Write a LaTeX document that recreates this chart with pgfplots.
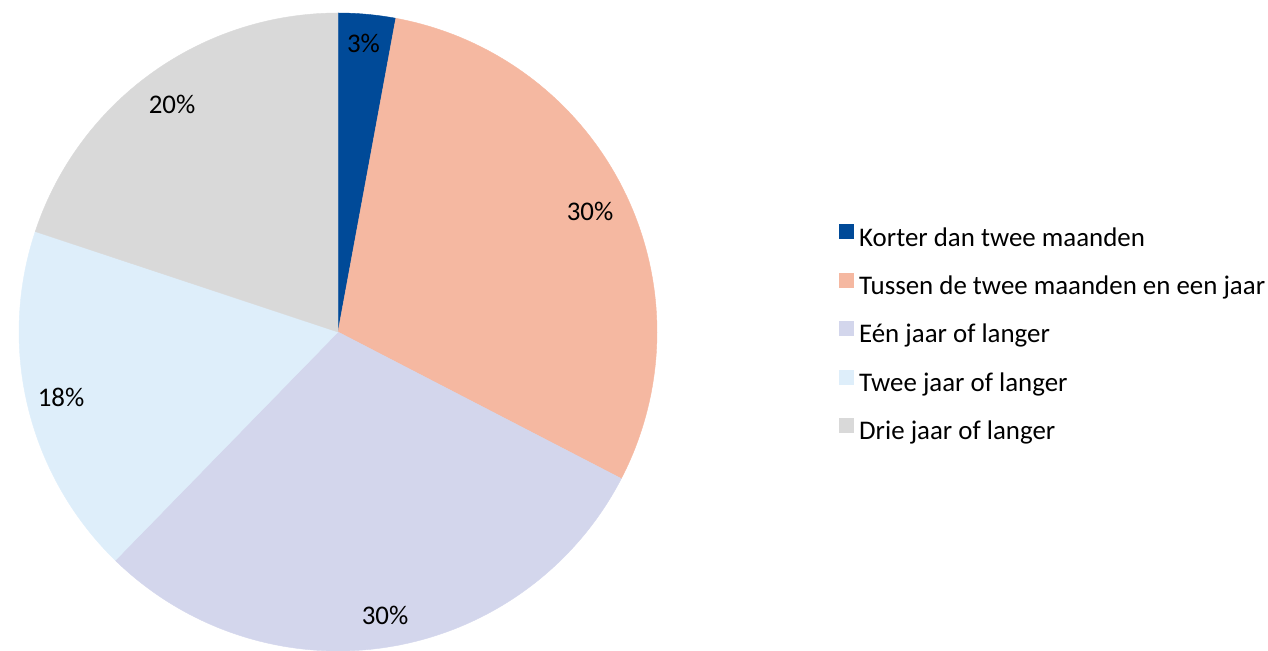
\documentclass[border=0pt]{standalone}
\usepackage{fontspec}
\setmainfont{Carlito}
\usepackage{pgfplots}
\pgfplotsset{compat=1.18}
\definecolor{cA}{RGB}{0,74,152}
\definecolor{cB}{RGB}{245,184,161}
\definecolor{cC}{RGB}{211,214,236}
\definecolor{cD}{RGB}{222,238,250}
\definecolor{cE}{RGB}{217,217,217}
% slice: start percent, end percent, colour
\newcommand{\slice}[3]{%
  \pgfmathsetmacro{\sa}{#1*3.6}\pgfmathsetmacro{\sb}{#2*3.6}%
  \addplot[fill=#3, draw=#3, line width=0.2bp, domain=\sa:\sb, samples=150, variable=\t, forget plot]
    ({338+319*sin(\t)}, {319+319*cos(\t)}) -- (axis cs:338,319) -- cycle;
}
\begin{document}
\begin{tikzpicture}
\begin{axis}[
  hide axis, scale only axis,
  width=634bp, height=325.5bp,
  xmin=0, xmax=1268, ymin=0, ymax=651,
  clip=false,
  legend cell align=left,
  legend style={draw=none, fill=none, at={(axis cs:839,651-223)}, anchor=north west,
    font=\fontsize{13.45bp}{16.1bp}\selectfont, row sep=9.4bp, inner sep=0pt,
    /tikz/every odd column/.append style={column sep=0.4bp},
    /tikz/every even column/.append style={column sep=0pt}},
  legend image code/.code={\fill[#1, draw=none] (0bp,-0.5bp) rectangle (7.5bp,7bp);},
]
\coordinate (ll) at (axis cs:0,0);
\coordinate (ur) at (axis cs:1268,651);
% shares in percent: 2.9, 29.7, 29.7, 17.8, 19.9
\slice{0}{2.9}{cA}
\slice{2.9}{32.6}{cB}
\slice{32.6}{62.3}{cC}
\slice{62.3}{80.1}{cD}
\slice{80.1}{100}{cE}
\addlegendimage{fill=cA, draw=none}\addlegendentry{Korter dan twee maanden}
\addlegendimage{fill=cB, draw=none}\addlegendentry{Tussen de twee maanden en een jaar}
\addlegendimage{fill=cC, draw=none}\addlegendentry{Eén jaar of langer}
\addlegendimage{fill=cD, draw=none}\addlegendentry{Twee jaar of langer}
\addlegendimage{fill=cE, draw=none}\addlegendentry{Drie jaar of langer}
\begin{scope}[every node/.style={font=\fontsize{13.45bp}{16.1bp}\selectfont, inner sep=0pt}]
\node at (axis cs:363.5,651-43.5) {3\%};
\node at (axis cs:590,651-211.5) {30\%};
\node at (axis cs:385,651-615) {30\%};
\node at (axis cs:61,651-397) {18\%};
\node at (axis cs:172,651-104) {20\%};
\end{scope}
\end{axis}
\pgfresetboundingbox
\path (ll) rectangle (ur);
\end{tikzpicture}
\end{document}
